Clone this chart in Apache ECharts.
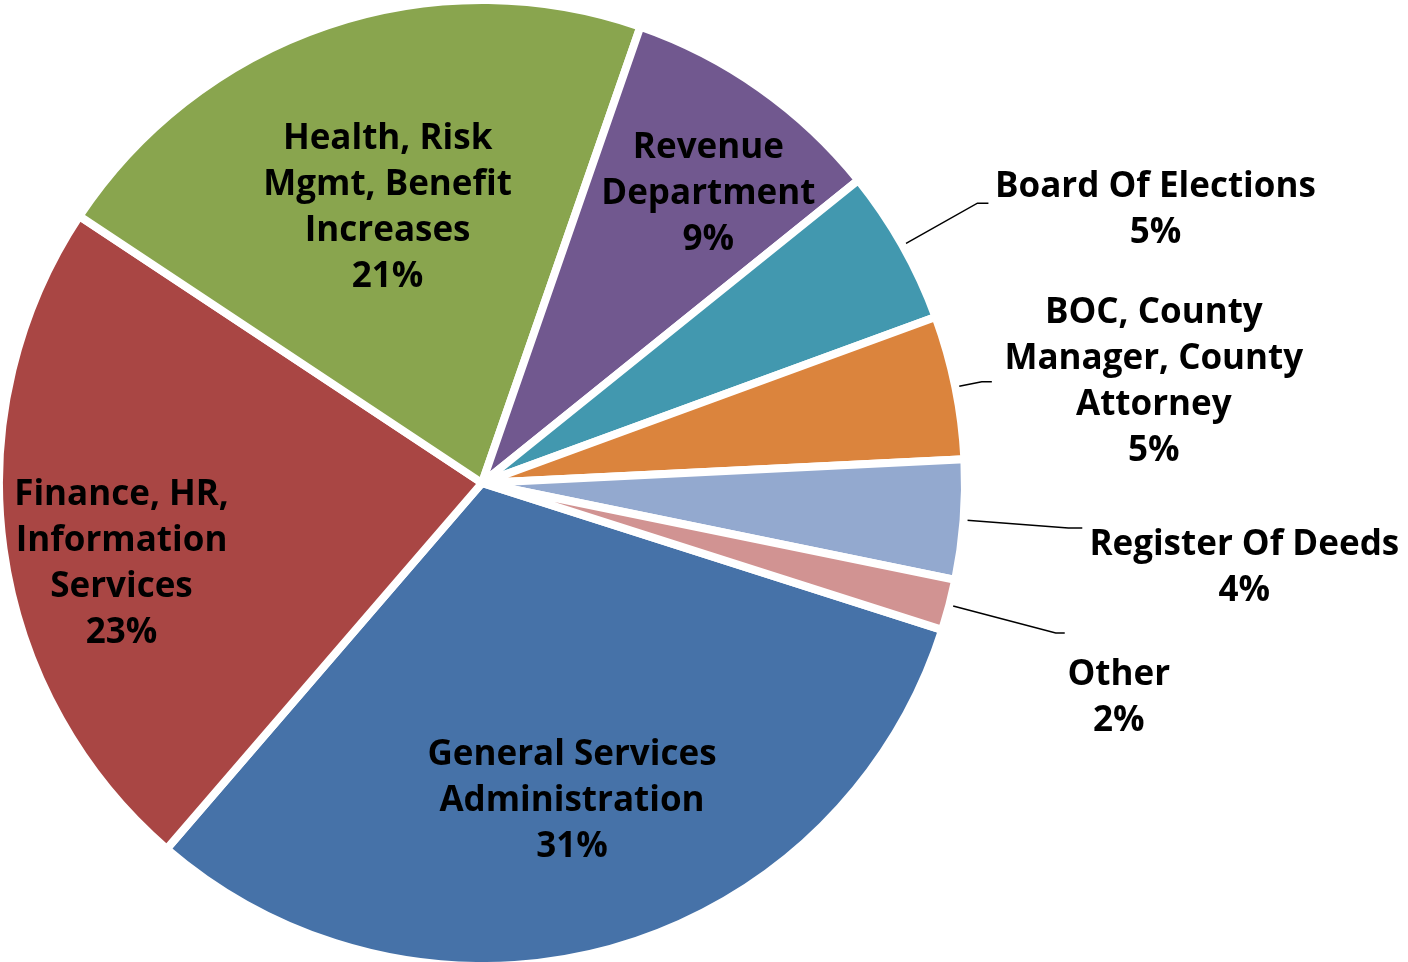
<!DOCTYPE html>
<html>
<head>
<meta charset="utf-8">
<script src="https://cdn.jsdelivr.net/npm/echarts@6/dist/echarts.min.js"></script>
<style>
  html, body { margin: 0; padding: 0; background: #fff; }
  #chart { width: 1408px; height: 962px; }
</style>
</head>
<body>
<div id="chart"></div>
<script>
// slice names, clockwise from the blue slice
const categories = [
  "General Services Administration",
  "Finance, HR, Information Services",
  "Health, Risk Mgmt, Benefit Increases",
  "Revenue Department",
  "Board Of Elections",
  "BOC, County Manager, County Attorney",
  "Register Of Deeds",
  "Other"
];
// label text as it wraps in the picture
const labelLines = [
  ["General Services", "Administration"],
  ["Finance, HR,", "Information", "Services"],
  ["Health, Risk", "Mgmt, Benefit", "Increases"],
  ["Revenue", "Department"],
  ["Board Of Elections"],
  ["BOC, County", "Manager, County", "Attorney"],
  ["Register Of Deeds"],
  ["Other"]
];
// share of budget (percent)
const values = [31.4, 23.0, 21.0, 8.9, 5.2, 4.8, 4.0, 1.7];
const colors = ["#4672a8", "#a94644", "#89a54e", "#71588f", "#4298af", "#db843d", "#93a9cf", "#d19392"];

const FONT = "Open Sans";
const CX = 482, CY = 483, R = 483;
const START = -17.7;

const chart = echarts.init(document.getElementById("chart"));

const pct = p => Math.round(p.percent) + "%";
const richText = p => labelLines[p.dataIndex].concat([pct(p)]).map(s => "{t|" + s + "}").join("\n");

const textStyle = {
  color: "#000",
  fontFamily: FONT,
  fontWeight: "bold",
  fontSize: 35,
  lineHeight: 46
};

// outside labels: leader line lengths, text box width, extra top padding
const outside = {
  4: { len: 86, len2: 11, w: 330, pad: 14 },
  5: { len: 27, len2: 10, w: 320, pad: 0 },
  6: { len: 105, len2: 14, w: 320, pad: 80 },
  7: { len: 110, len2: 9, w: 104, pad: 130 }
};
// small nudges for the inside labels [top, left]
const insidePad = { 0: [0, 0], 1: [60, 20], 2: [10, 0], 3: [34, 22] };

const mainData = categories.map((name, i) => {
  const o = outside[i];
  const item = { name, value: values[i], itemStyle: { color: colors[i] } };
  if (o) {
    item.label = {
      show: true,
      width: o.w,
      overflow: "none",
      padding: [o.pad, 0, 0, 0],
      formatter: richText,
      rich: { t: Object.assign({ width: o.w, align: "center" }, textStyle) }
    };
    item.labelLine = { show: true, length: o.len, length2: o.len2 };
  } else {
    item.label = { show: false };
    item.labelLine = { show: false };
  }
  return item;
});

// transparent rings that only carry the inside labels at a given distance
function labelRing(inner, shown) {
  return {
    type: "pie",
    silent: true,
    center: [CX, CY],
    radius: [inner, R],
    startAngle: START,
    clockwise: true,
    avoidLabelOverlap: false,
    animation: false,
    itemStyle: { color: "rgba(0,0,0,0)", borderWidth: 0 },
    labelLine: { show: false },
    label: {
      show: true,
      position: "inside",
      formatter: richText,
      rich: { t: Object.assign({ align: "center" }, textStyle) }
    },
    data: categories.map((name, i) => {
      const p = insidePad[i] || [0, 0];
      return {
        name,
        value: values[i],
        label: { show: shown.includes(i), padding: [p[0], 0, 0, p[1]] }
      };
    })
  };
}

chart.setOption({
  backgroundColor: "#fff",
  animation: false,
  series: [
    {
      type: "pie",
      center: [CX, CY],
      radius: [0, R],
      startAngle: START,
      clockwise: true,
      avoidLabelOverlap: false,
      silent: true,
      itemStyle: { borderColor: "#fff", borderWidth: 8 },
      label: { position: "outside", distanceToLabelLine: 2, bleedMargin: 0 },
      labelLine: { lineStyle: { color: "#000", width: 1.5 } },
      data: mainData
    },
    labelRing(101, [2]),
    labelRing(173, [0]),
    labelRing(259, [1, 3])
  ]
});
</script>
</body>
</html>
